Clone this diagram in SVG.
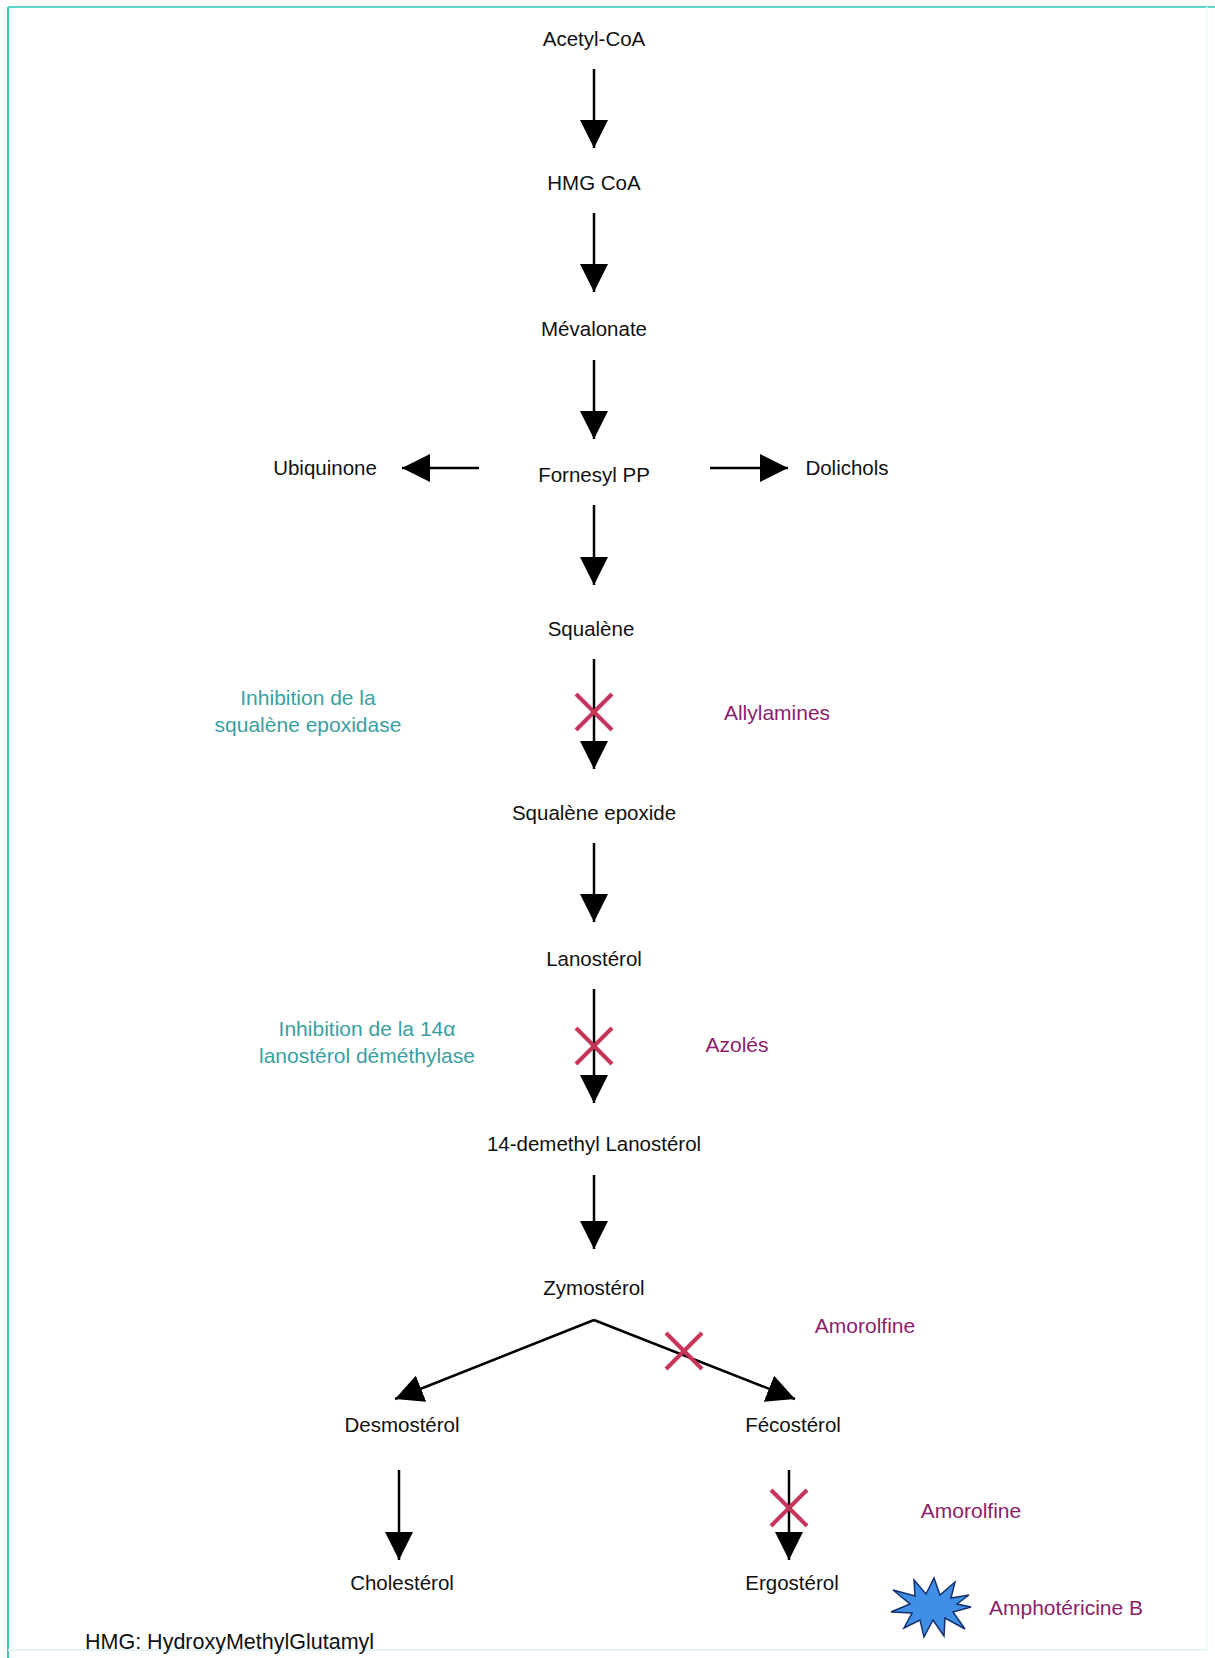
<svg xmlns="http://www.w3.org/2000/svg" width="1215" height="1658" viewBox="0 0 1215 1658">
<style>
  text { font-family: "Liberation Sans", Arial, sans-serif; font-size: 20.5px; text-anchor: middle; }
  .node { fill: #111; }
  .enz { fill: #3a9fa3; font-size: 21px; }
  .drug { fill: #8b1d6c; font-size: 21px; }
  .conn line { stroke: #000; stroke-width: 2.5; marker-end: url(#ah); }
  .x line { stroke: #c8355a; stroke-width: 4; }
</style>
<defs>
  <marker id="ah" markerUnits="userSpaceOnUse" markerWidth="28" markerHeight="28" viewBox="0 0 26 26" refX="26" refY="13" orient="auto">
    <path d="M0,0 L26,13 L0,26 z" fill="#000"/>
  </marker>
</defs>
<rect x="0" y="0" width="1215" height="1658" fill="#fff"/>
<line x1="8" y1="7" x2="1215" y2="7" stroke="#5cd6c8" stroke-width="2"/>
<line x1="8" y1="7" x2="8" y2="1658" stroke="#3cc8b4" stroke-width="2"/>
<line x1="1207" y1="7" x2="1207" y2="1650" stroke="#f0faf8" stroke-width="2"/>
<line x1="8" y1="1650" x2="1207" y2="1650" stroke="#dff6f2" stroke-width="2"/>

<g class="conn" id="connectors">
  <line x1="594" y1="69" x2="594" y2="148"/>
  <line x1="594" y1="213" x2="594" y2="292"/>
  <line x1="594" y1="360" x2="594" y2="439"/>
  <line x1="479" y1="468" x2="402" y2="468"/>
  <line x1="710" y1="468" x2="788" y2="468"/>
  <line x1="594" y1="505" x2="594" y2="585"/>
  <line x1="594" y1="659" x2="594" y2="769"/>
  <line x1="594" y1="843" x2="594" y2="922"/>
  <line x1="594" y1="989" x2="594" y2="1103"/>
  <line x1="594" y1="1175" x2="594" y2="1249"/>
  <line x1="594" y1="1320" x2="395" y2="1399"/>
  <line x1="594" y1="1320" x2="795" y2="1399"/>
  <line x1="399" y1="1470" x2="399" y2="1560"/>
  <line x1="789" y1="1470" x2="789" y2="1560"/>
</g>

<g id="inhibitions" class="x">
  <g id="x-allylamines"><line x1="576" y1="694" x2="612" y2="730"/><line x1="612" y1="694" x2="576" y2="730"/></g>
  <g id="x-azoles"><line x1="576" y1="1028" x2="612" y2="1064"/><line x1="612" y1="1028" x2="576" y2="1064"/></g>
  <g id="x-amorolfine1"><line x1="666" y1="1333" x2="702" y2="1369"/><line x1="702" y1="1333" x2="666" y2="1369"/></g>
  <g id="x-amorolfine2"><line x1="771" y1="1490" x2="807" y2="1526"/><line x1="807" y1="1490" x2="771" y2="1526"/></g>
</g>

<g id="acetyl-coa"><text class="node" x="594" y="46">Acetyl-CoA</text></g>
<g id="hmg-coa"><text class="node" x="594" y="190">HMG CoA</text></g>
<g id="mevalonate"><text class="node" x="594" y="336">Mévalonate</text></g>
<g id="fornesyl-pp"><text class="node" x="594" y="482">Fornesyl PP</text></g>
<g id="ubiquinone"><text class="node" x="325" y="475">Ubiquinone</text></g>
<g id="dolichols"><text class="node" x="847" y="475">Dolichols</text></g>
<g id="squalene"><text class="node" x="591" y="636">Squalène</text></g>
<g id="squalene-epoxide"><text class="node" x="594" y="820">Squalène epoxide</text></g>
<g id="lanosterol"><text class="node" x="594" y="966">Lanostérol</text></g>
<g id="demethyl-lanosterol"><text class="node" x="594" y="1151">14-demethyl Lanostérol</text></g>
<g id="zymosterol"><text class="node" x="594" y="1295">Zymostérol</text></g>
<g id="desmosterol"><text class="node" x="402" y="1432">Desmostérol</text></g>
<g id="fecosterol"><text class="node" x="793" y="1432">Fécostérol</text></g>
<g id="cholesterol"><text class="node" x="402" y="1590">Cholestérol</text></g>
<g id="ergosterol"><text class="node" x="792" y="1590">Ergostérol</text></g>

<g id="enzyme-squalene-epoxidase">
  <text class="enz" x="308" y="705">Inhibition de la</text>
  <text class="enz" x="308" y="732">squalène epoxidase</text>
</g>
<g id="enzyme-lanosterol-demethylase">
  <text class="enz" x="367" y="1036">Inhibition de la 14α</text>
  <text class="enz" x="367" y="1063">lanostérol déméthylase</text>
</g>
<g id="allylamines"><text class="drug" x="777" y="720">Allylamines</text></g>
<g id="azoles"><text class="drug" x="737" y="1052">Azolés</text></g>
<g id="amorolfine-1"><text class="drug" x="865" y="1333">Amorolfine</text></g>
<g id="amorolfine-2"><text class="drug" x="971" y="1518">Amorolfine</text></g>
<g id="amphotericine">
  <polygon points="971,1607 953,1612 965,1629 945,1618 944,1636 933,1620 924,1637 920,1620 904,1628 912,1613 891,1612 910,1604 893,1590 915,1596 914,1580 926,1594 934,1578 940,1595 955,1582 951,1598 969,1595 957,1604" fill="#3f8fe6" stroke="#16306e" stroke-width="1.5"/>
  <text class="drug" x="1066" y="1615">Amphotéricine B</text>
</g>
<g id="legend"><text class="node" x="85" y="1649" style="text-anchor:start;font-size:21.5px">HMG: HydroxyMethylGlutamyl</text></g>
</svg>
